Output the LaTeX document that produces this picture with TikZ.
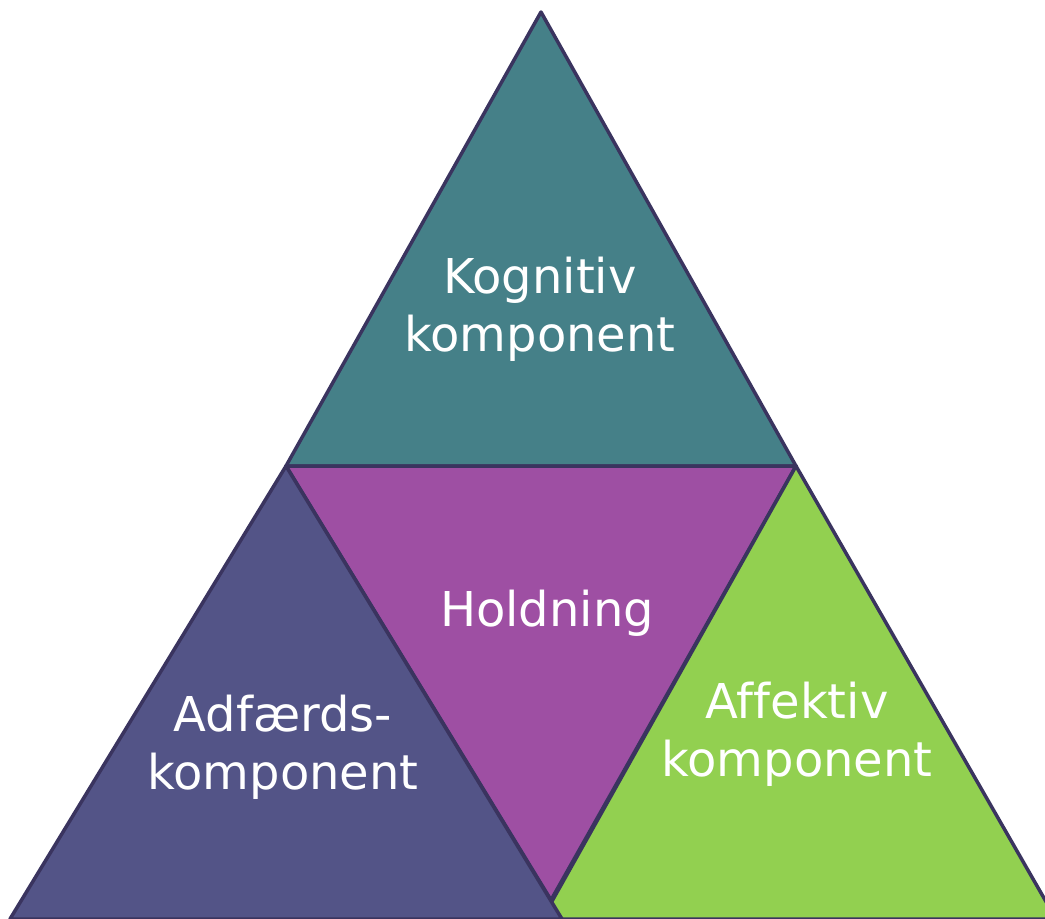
\documentclass[tikz,border=0pt]{standalone}
\usepackage{fontspec}
\setmainfont[Ligatures=NoCommon]{DejaVu Sans}
\definecolor{kogcol}{HTML}{458088}
\definecolor{holdcol}{HTML}{9E4FA3}
\definecolor{adfcol}{HTML}{535487}
\definecolor{affcol}{HTML}{92D050}
\definecolor{edgecol}{HTML}{3A345F}

\begin{document}
\begin{tikzpicture}[x=1pt, y=-1pt,
  part/.style={draw=edgecol, line width=3.5pt, line join=round},
  label text/.style={text=white, align=center, font=\fontsize{48}{58}\selectfont}]
  \useasboundingbox (0,0) rectangle (1045,919);

  % corners
  \coordinate (top) at (541,12);
  \coordinate (ml) at (286,466);
  \coordinate (mr) at (796,466);
  \coordinate (mb) at (551,900);

  \filldraw[part, fill=kogcol] (top) -- (ml) -- (mr) -- cycle;
  \filldraw[part, fill=holdcol] (ml) -- (mr) -- (mb) -- cycle;
  \filldraw[part, fill=affcol] (mr) -- (1056,919) -- (542,919) -- cycle;
  \filldraw[part, fill=adfcol] (ml) -- (562,919) -- (10,919) -- cycle;

  \node[label text] (kog) at (540,309) {Kognitiv\\komponent};
  \node[label text] (hold) at (547,613) {Holdning};
  \node[label text] (adf) at (283,747) {Adfærds-\\komponent};
  \node[label text] (aff) at (797,734) {Affektiv\\komponent};
\end{tikzpicture}
\end{document}
